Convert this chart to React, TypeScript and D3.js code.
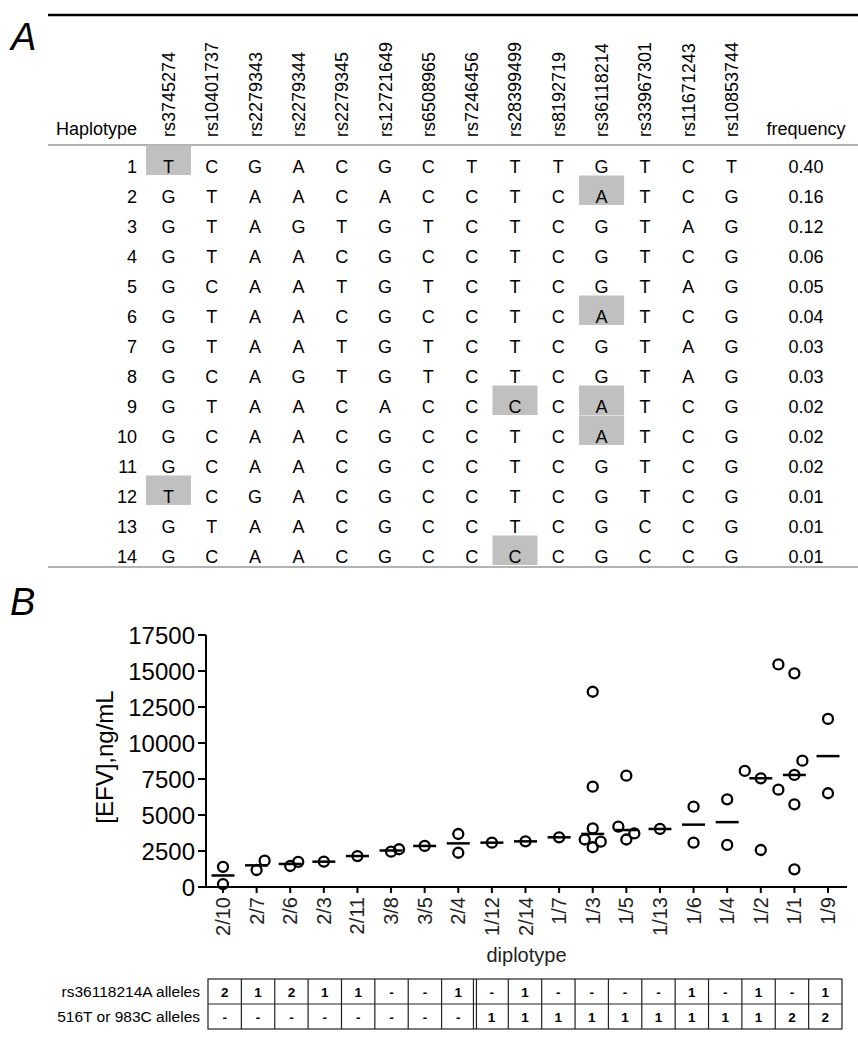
import React from "react";
import * as d3 from "d3";

// ---------- Panel A data ----------
const snps = [
  "rs3745274", "rs10401737", "rs2279343", "rs2279344", "rs2279345", "rs12721649", "rs6508965",
  "rs7246456", "rs28399499", "rs8192719", "rs36118214", "rs33967301", "rs11671243", "rs10853744",
];
const haplotypeIds = ["1", "2", "3", "4", "5", "6", "7", "8", "9", "10", "11", "12", "13", "14"];
const haplotypeAlleles = [
  "TCGACGCTTTGTCT",
  "GTAACACCTCATCG",
  "GTAGTGTCTCGTAG",
  "GTAACGCCTCGTCG",
  "GCAATGTCTCGTAG",
  "GTAACGCCTCATCG",
  "GTAATGTCTCGTAG",
  "GCAGTGTCTCGTAG",
  "GTAACACCCCATCG",
  "GCAACGCCTCATCG",
  "GCAACGCCTCGTCG",
  "TCGACGCCTCGTCG",
  "GTAACGCCTCGCCG",
  "GCAACGCCCCGCCG",
];
const frequencies = ["0.40", "0.16", "0.12", "0.06", "0.05", "0.04", "0.03", "0.03", "0.02", "0.02", "0.02", "0.01", "0.01", "0.01"];
// [haplotype row index, snp column index]
const highlighted: [number, number][] = [
  [0, 0], [1, 10], [5, 10], [8, 8], [8, 10], [9, 10], [11, 0], [13, 8],
];

// ---------- Panel B data ----------
const diplotypes = ["2/10", "2/7", "2/6", "2/3", "2/11", "3/8", "3/5", "2/4", "1/12", "2/14", "1/7", "1/3", "1/5", "1/13", "1/6", "1/4", "1/2", "1/1", "1/9"];
const efvValues: number[][] = [
  [200, 1400],
  [1180, 1830],
  [1460, 1740],
  [1760],
  [2150],
  [2450, 2620],
  [2850],
  [2380, 3680],
  [3080],
  [3170],
  [3450],
  [2760, 3150, 3300, 4070, 6970, 13560],
  [3300, 3720, 4190, 7730],
  [4030],
  [3080, 5580],
  [2920, 6090],
  [2570, 7550, 8060],
  [1230, 5740, 6760, 7780, 8770, 14840, 15460],
  [6510, 11670],
];
// dodge order of each point (symbol slots left/right of the category centre)
const dodgeSlots: number[][] = [
  [0, 0], [0, 1], [0, 1], [0], [0], [0, 1], [0], [0, 0], [0], [0], [0],
  [0, 1, -1, 0, 0, 0], [0, 1, -1, 0], [0], [0, 0], [0, 0], [0, 0, -2],
  [0, 0, -2, 0, 1, 0, -2], [0, 0],
];
const yTicks = [0, 2500, 5000, 7500, 10000, 12500, 15000, 17500];
const rsAAlleles = ["2", "1", "2", "1", "1", "-", "-", "1", "-", "1", "-", "-", "-", "-", "1", "-", "1", "-", "1"];
const otherAlleles = ["-", "-", "-", "-", "-", "-", "-", "-", "1", "1", "1", "1", "1", "1", "1", "1", "1", "2", "2"];
const tableRowLabels = ["rs36118214A alleles", "516T or 983C alleles"];

const FONT = "'Liberation Sans', Arial, Helvetica, sans-serif";

function PanelA() {
  const col = d3.scaleLinear().domain([0, snps.length - 1]).range([168.5, 731.5]);
  const rowTop = d3.scaleLinear().domain([0, 1]).range([145, 175]);
  const cellW = 45;
  return (
    <g fontFamily={FONT}>
      <line x1={48} x2={858} y1={15} y2={15} stroke="#000" strokeWidth={2.5} />
      <text x={11} y={50} fontSize={38} fontStyle="italic">A</text>
      <text x={137} y={135} fontSize={18} textAnchor="end">Haplotype</text>
      {snps.map((s, i) => (
        <text key={s} transform={`translate(${col(i) + 6.5},137) rotate(-90)`} fontSize={18}>{s}</text>
      ))}
      <text x={806} y={135} fontSize={18} textAnchor="middle">frequency</text>
      <line x1={48} x2={858} y1={145} y2={145} stroke="#999" strokeWidth={1.5} />
      {highlighted.map(([r, c]) => (
        <rect key={`${r}-${c}`} x={col(c) - cellW / 2} y={rowTop(r) + 0.5} width={cellW} height={29.5} fill="#c0c0c0" />
      ))}
      {haplotypeIds.map((h, r) => (
        <g key={h}>
          <text x={137} y={rowTop(r) + 27.5} fontSize={18} textAnchor="end">{h}</text>
          {haplotypeAlleles[r].split("").map((a, c) => (
            <text key={c} x={col(c)} y={rowTop(r) + 27.5} fontSize={18} textAnchor="middle">{a}</text>
          ))}
          <text x={806} y={rowTop(r) + 27.5} fontSize={18} textAnchor="middle">{frequencies[r]}</text>
        </g>
      ))}
      <line x1={48} x2={858} y1={567} y2={567} stroke="#999" strokeWidth={1.5} />
    </g>
  );
}

function PanelB() {
  const x = d3.scalePoint<string>().domain(diplotypes).range([223, 828]);
  const y = d3.scaleLinear().domain([0, 17500]).range([887, 635]);
  const axisLeft = 206;
  const axisRight = 847;
  const slotW = 8;
  const points = efvValues.flatMap((vals, i) =>
    vals.map((v, j) => ({ cat: diplotypes[i], v, slot: dodgeSlots[i][j] }))
  );
  const medians = efvValues.map((vals, i) => ({ cat: diplotypes[i], m: d3.median(vals) as number }));

  const tableX = d3.scaleLinear().domain([0, diplotypes.length]).range([208, 842]);
  const tableY = d3.scaleLinear().domain([0, 2]).range([979, 1029]);
  const rows = [rsAAlleles, otherAlleles];

  return (
    <g fontFamily={FONT}>
      <text x={10} y={615} fontSize={38} fontStyle="italic">B</text>
      {/* y axis */}
      <line x1={axisLeft} x2={axisLeft} y1={y(17500)} y2={y(0) + 1} stroke="#000" strokeWidth={2} />
      {yTicks.map((t) => (
        <g key={t}>
          <line x1={axisLeft - 8} x2={axisLeft} y1={y(t)} y2={y(t)} stroke="#000" strokeWidth={2} />
          <text x={195} y={y(t)} dy="0.36em" fontSize={24} textAnchor="end">{t}</text>
        </g>
      ))}
      <text transform={`translate(113,757) rotate(-90)`} fontSize={24} textAnchor="middle">[EFV],ng/mL</text>
      {/* x axis */}
      <line x1={axisLeft} x2={axisRight} y1={y(0)} y2={y(0)} stroke="#000" strokeWidth={2} />
      {diplotypes.map((d) => (
        <g key={d}>
          <line x1={x(d)!} x2={x(d)!} y1={y(0)} y2={y(0) + 6} stroke="#000" strokeWidth={2} />
          <text transform={`translate(${x(d)! + 7},897) rotate(-90)`} fontSize={20} textAnchor="end" fill="#222">{d}</text>
        </g>
      ))}
      <text x={(axisLeft + axisRight) / 2} y={962} fontSize={20} textAnchor="middle" fill="#222">diplotype</text>
      {/* medians */}
      {medians.map((m) => (
        <line key={m.cat} x1={x(m.cat)! - 11.5} x2={x(m.cat)! + 11.5} y1={y(m.m)} y2={y(m.m)} stroke="#000" strokeWidth={2.5} />
      ))}
      {/* points */}
      {points.map((p, k) => (
        <circle key={k} cx={x(p.cat)! + p.slot * slotW} cy={y(p.v)} r={5} fill="none" stroke="#000" strokeWidth={2.3} />
      ))}
      {/* allele table */}
      {tableRowLabels.map((l, r) => (
        <text key={l} x={200} y={tableY(r) + 18} fontSize={15.5} textAnchor="end">{l}</text>
      ))}
      <rect x={tableX(0)} y={tableY(0)} width={tableX(diplotypes.length) - tableX(0)} height={tableY(2) - tableY(0)} fill="none" stroke="#222" strokeWidth={1.2} />
      <line x1={tableX(0)} x2={tableX(diplotypes.length)} y1={tableY(1)} y2={tableY(1)} stroke="#222" strokeWidth={1.2} />
      {d3.range(1, diplotypes.length).map((k) => (
        <line key={k} x1={tableX(k) + (k === 8 ? -1.5 : 0)} x2={tableX(k) + (k === 8 ? -1.5 : 0)} y1={tableY(0)} y2={tableY(2)} stroke="#222" strokeWidth={1.2} />
      ))}
      <line x1={tableX(8) + 1.5} x2={tableX(8) + 1.5} y1={tableY(0)} y2={tableY(2)} stroke="#222" strokeWidth={1.2} />
      {rows.map((row, r) =>
        row.map((v, c) => (
          <text key={`${r}-${c}`} x={(tableX(c) + tableX(c + 1)) / 2} y={tableY(r) + 18} fontSize={13.5} fontWeight="bold" textAnchor="middle">{v}</text>
        ))
      )}
    </g>
  );
}

export default function App() {
  return (
    <svg width={858} height={1050} style={{ position: "absolute", left: 0, top: 0, background: "#fff" }}>
      <rect width={858} height={1050} fill="#fff" />
      <PanelA />
      <PanelB />
    </svg>
  );
}
